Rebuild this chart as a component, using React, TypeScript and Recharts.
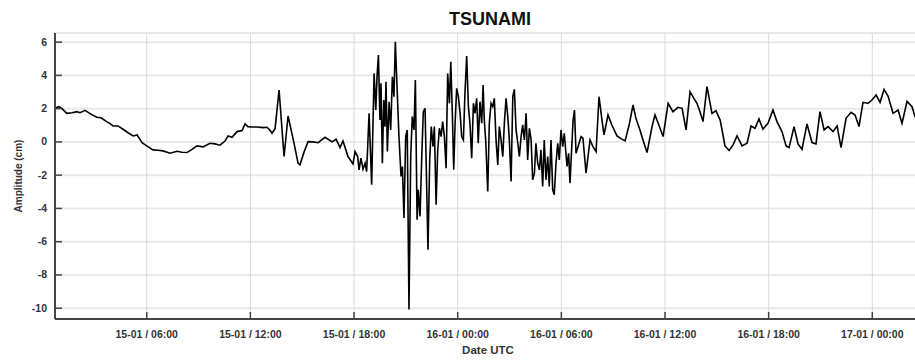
import { LineChart, Line, XAxis, YAxis, CartesianGrid } from "recharts";

// hours since 15-01 00:00 UTC
const hours = [
  0.69, 0.92, 1.1, 1.37, 1.68, 1.95, 2.14, 2.43, 2.72, 3.11, 3.35, 3.68, 3.88, 4.05, 4.34, 4.63, 4.92, 5.21, 5.44, 5.73,
  6.02, 6.36, 6.65, 6.94, 7.35, 7.75, 8.04, 8.33, 8.62, 8.91, 9.26, 9.66, 9.95, 10.24, 10.53, 10.71, 10.94, 11.23, 11.52, 11.69,
  11.86, 12.1, 12.38, 12.73, 12.96, 13.14, 13.25, 13.43, 13.66, 13.95, 14.18, 14.47, 14.76, 14.87, 15.11, 15.34, 15.63, 15.92, 16.32, 16.73,
  16.96, 17.19, 17.36, 17.65, 17.94, 18.06, 18.21, 18.29, 18.4, 18.52, 18.64, 18.73, 18.87, 19.02, 19.16, 19.26, 19.33, 19.41, 19.5, 19.56,
  19.64, 19.72, 19.79, 19.85, 19.93, 20.03, 20.12, 20.22, 20.31, 20.39, 20.51, 20.6, 20.72, 20.8, 20.89, 20.99, 21.08, 21.18, 21.28, 21.37,
  21.47, 21.55, 21.65, 21.72, 21.82, 21.92, 22.01, 22.11, 22.18, 22.28, 22.38, 22.47, 22.57, 22.65, 22.75, 22.84, 22.94, 23.04, 23.13, 23.23,
  23.33, 23.42, 23.52, 23.6, 23.69, 23.77, 23.85, 23.94, 24.04, 24.14, 24.23, 24.33, 24.42, 24.52, 24.62, 24.71, 24.81, 24.91, 25.0, 25.1,
  25.19, 25.29, 25.39, 25.47, 25.54, 25.62, 25.74, 25.83, 25.93, 26.03, 26.12, 26.22, 26.32, 26.41, 26.51, 26.61, 26.7, 26.8, 26.9, 26.99,
  27.09, 27.19, 27.28, 27.38, 27.48, 27.57, 27.67, 27.76, 27.86, 27.96, 28.05, 28.15, 28.25, 28.34, 28.44, 28.53, 28.63, 28.73, 28.82, 28.92,
  29.01, 29.11, 29.21, 29.3, 29.4, 29.5, 29.59, 29.69, 29.79, 29.88, 29.98, 30.08, 30.17, 30.33, 30.42, 30.5, 30.68, 30.76, 30.85, 30.97,
  31.14, 31.25, 31.43, 31.66, 31.83, 32.01, 32.18, 32.35, 32.47, 32.7, 32.93, 33.22, 33.45, 33.69, 33.92, 34.15, 34.32, 34.55, 34.73, 34.96,
  35.25, 35.42, 35.65, 35.89, 36.18, 36.46, 36.75, 36.99, 37.22, 37.45, 37.68, 37.85, 38.03, 38.2, 38.43, 38.72, 38.95, 39.19, 39.36, 39.47,
  39.71, 39.94, 40.17, 40.46, 40.75, 40.98, 41.21, 41.44, 41.67, 41.96, 42.25, 42.48, 42.77, 43.01, 43.18, 43.47, 43.7, 43.93, 44.22, 44.51,
  44.74, 44.97, 45.21, 45.44, 45.73, 45.96, 46.19, 46.48, 46.77, 47.0, 47.23, 47.46, 47.75, 47.98, 48.22, 48.45, 48.68, 48.91, 49.2, 49.49,
  49.72, 50.01, 50.3, 50.47, 50.76, 51.05,
];

// sea level amplitude in cm
const amplitude = [
  2.04, 2.12, 2.0, 1.72, 1.75, 1.82, 1.76, 1.9, 1.7, 1.48, 1.45, 1.22, 1.1, 0.96, 0.96, 0.76, 0.55, 0.36, 0.42, -0.04,
  -0.25, -0.48, -0.5, -0.54, -0.68, -0.56, -0.62, -0.64, -0.45, -0.24, -0.3, -0.08, -0.12, -0.2, 0.05, 0.36, 0.28, 0.62, 0.68, 1.08,
  0.92, 0.9, 0.9, 0.86, 0.88, 0.7, 0.52, 0.8, 3.12, -0.88, 1.56, 0.2, -1.28, -1.38, -0.6, 0.02, 0, -0.05, 0.28, 0,
  0.16, -0.34, 0.06, -0.88, -1.32, -0.58, -0.88, -1.68, -0.98, -1.64, -1.28, -1.78, 1.72, -2.58, 4.12, 1.92, 3.92, 5.22, 1.32, 3.52,
  -1.28, 2.52, 0.92, 3.62, -0.58, 2.42, 0.72, 3.92, 2.72, 6.02, 2.72, 0.32, -2.08, -1.48, -4.58, 0.32, 0.72, -10.08, -0.88, 1.52,
  0.72, 3.72, -4.68, -2.88, -4.48, -0.88, 1.82, 2.02, -1.48, -6.48, -1.08, 0.92, -0.28, 0.92, -3.78, -0.58, 0.82, 0.32, 1.22, 0.32,
  -1.58, 4.12, 2.32, 4.82, 1.72, -1.68, 1.12, 3.22, 2.72, 1.72, 0.32, 0.12, 2.92, 5.16, 2.12, 1.12, -0.98, 2.32, 1.72, 2.62,
  -0.08, 2.42, 1.12, 3.42, 1.32, 0.12, -2.98, 1.12, 2.32, 2.12, 2.62, 0.12, -1.38, 0.92, 0.12, -0.88, 1.12, 2.62, 1.52, 0.12,
  -2.38, 2.72, 3.16, 0.72, -0.08, -0.88, 0.32, 1.02, 0.12, 1.72, -1.08, 0.82, 0.12, -2.28, -1.88, -0.08, -1.28, -1.68, -0.48, -2.68,
  0.12, -2.28, -0.88, -2.68, 0.12, -2.88, -3.18, -1.28, -0.08, -1.08, 0.72, -0.28, 0.52, -1.48, -0.68, -2.48, 1.32, 1.92, -0.68, -0.28,
  0.32, 0.22, -1.88, 0.12, -0.28, -0.58, 2.72, 1.32, 0.42, 1.62, 1.0, 0.36, 0.2, 0.06, 1.0, 2.22, 1.4, 0.72, 0.1, -0.64,
  0.92, 1.62, 1.0, 0.32, 2.32, 1.82, 2.08, 2.02, 0.72, 3.02, 2.6, 2.32, 1.8, 1.22, 3.32, 1.72, 1.88, 1.32, 0.4, -0.24,
  -0.52, -0.18, 0.36, -0.24, -0.08, 0.96, 0.82, 1.38, 0.76, 1.12, 1.92, 1.22, 0.62, -0.24, -0.34, 0.92, -0.12, -0.44, 1.08, -0.04,
  -0.12, 1.82, 0.72, 0.92, 0.62, 0.96, -0.34, 1.42, 1.78, 1.62, 0.92, 2.38, 2.32, 2.52, 2.82, 2.38, 3.16, 2.76, 1.72, 1.92,
  1.12, 2.44, 2.12, 1.52, 1.3, 1.6,
];

const xTicks = [6, 12, 18, 24, 30, 36, 42, 48];
const xTickLabels = [
  "15-01 / 06:00",
  "15-01 / 12:00",
  "15-01 / 18:00",
  "16-01 / 00:00",
  "16-01 / 06:00",
  "16-01 / 12:00",
  "16-01 / 18:00",
  "17-01 / 00:00",
];
const yTicks = [-10, -8, -6, -4, -2, 0, 2, 4, 6];

const data = hours.map((t, i) => ({ t, v: amplitude[i] }));

const FONT = '"Liberation Sans", Arial, sans-serif';
const TICK_LEN = 7;
const AXIS_COLOR = "#444";

// ticks point into the plot, labels sit outside
function BottomTick(props: any) {
  const { x, y, payload } = props;
  const label = xTickLabels[xTicks.indexOf(payload.value)];
  const base = y - 10;
  return (
    <g>
      <line x1={x} x2={x} y1={base} y2={base - TICK_LEN} stroke={AXIS_COLOR} strokeWidth={1.5} />
      <text x={x} y={y + 9} textAnchor="middle" fill="#333" fontSize={10.5} fontWeight={700} fontFamily={FONT}>
        {label}
      </text>
    </g>
  );
}

function TopTick(props: any) {
  const { x, y } = props;
  return <line x1={x} x2={x} y1={y} y2={y + TICK_LEN} stroke="#555" strokeWidth={1.5} />;
}

function LeftTick(props: any) {
  const { x, y, payload } = props;
  const base = x + 8;
  return (
    <g>
      <line x1={base} x2={base + TICK_LEN} y1={y} y2={y} stroke={AXIS_COLOR} strokeWidth={1.5} />
      <text x={x} y={y + 3.5} textAnchor="end" fill="#333" fontSize={10.5} fontWeight={700} fontFamily={FONT}>
        {payload.value}
      </text>
    </g>
  );
}

export default function App() {
  return (
    <div
      style={{
        position: "absolute",
        left: 0,
        top: 0,
        width: 915,
        height: 362,
        overflow: "hidden",
        background: "#fff",
        fontFamily: FONT,
      }}
    >
      <div
        style={{
          position: "absolute",
          left: 0,
          top: 8,
          width: 980,
          textAlign: "center",
          fontSize: 18,
          fontWeight: 700,
          color: "#111",
          lineHeight: "22px",
        }}
      >
        TSUNAMI
      </div>
      <div
        style={{
          position: "absolute",
          left: 0,
          top: 344,
          width: 976,
          textAlign: "center",
          fontSize: 11.5,
          fontWeight: 700,
          color: "#333",
        }}
      >
        Date UTC
      </div>
      <div
        style={{
          position: "absolute",
          left: 18,
          top: 176,
          transform: "translate(-50%, -50%) rotate(-90deg)",
          whiteSpace: "nowrap",
          fontSize: 10,
          fontWeight: 700,
          color: "#333",
        }}
      >
        Amplitude (cm)
      </div>
      <LineChart width={935} height={362} data={data} margin={{ top: 33, right: 10, bottom: 0, left: 0 }}>
        <CartesianGrid vertical={false} stroke="#e9e9e9" strokeWidth={2} />
        <CartesianGrid horizontal={false} stroke="#dadada" strokeWidth={1} />
        <XAxis
          xAxisId="top"
          orientation="top"
          dataKey="t"
          type="number"
          domain={[0.69, 51.05]}
          ticks={xTicks}
          interval={0}
          height={0}
          tickSize={0}
          tickMargin={0}
          tick={<TopTick />}
          tickLine={false}
          axisLine={{ stroke: "#666", strokeWidth: 2 }}
          allowDataOverflow
        />
        <XAxis
          dataKey="t"
          type="number"
          domain={[0.69, 51.05]}
          ticks={xTicks}
          interval={0}
          height={43}
          tickSize={0}
          tickMargin={10}
          tick={<BottomTick />}
          tickLine={false}
          axisLine={{ stroke: AXIS_COLOR, strokeWidth: 2 }}
          allowDataOverflow
        />
        <YAxis
          type="number"
          domain={[-10.65, 6.55]}
          ticks={yTicks}
          interval={0}
          width={55}
          tickSize={0}
          tickMargin={8}
          tick={<LeftTick />}
          tickLine={false}
          axisLine={{ stroke: AXIS_COLOR, strokeWidth: 2 }}
          allowDataOverflow
        />
        <Line
          xAxisId={0}
          type="linear"
          dataKey="v"
          stroke="#000"
          strokeWidth={1.6}
          dot={false}
          isAnimationActive={false}
        />
      </LineChart>
    </div>
  );
}
